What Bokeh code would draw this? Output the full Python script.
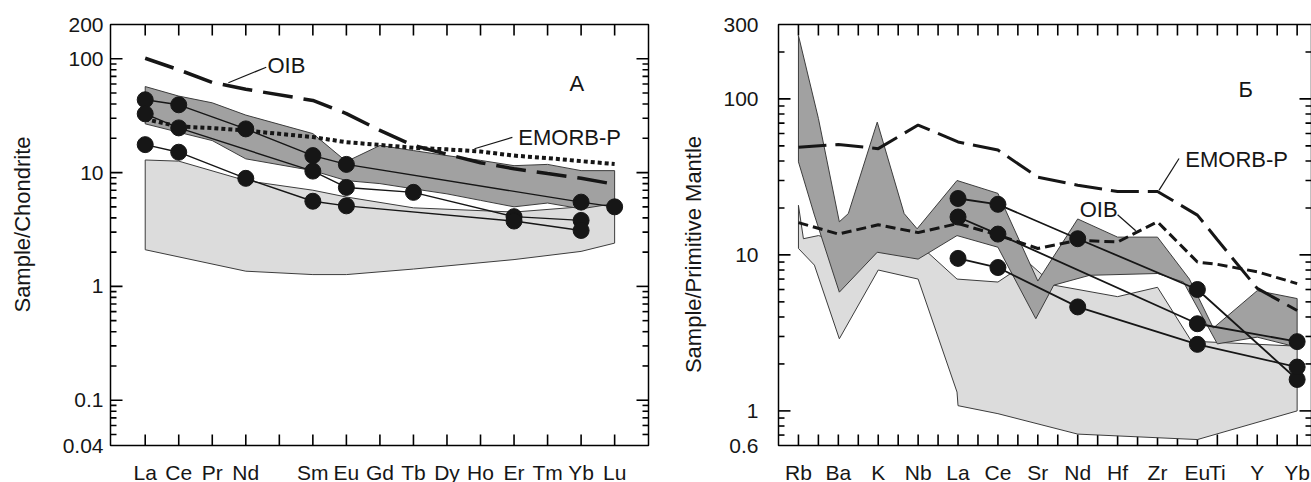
import math
from bokeh.plotting import figure
from bokeh.models import Range1d
from bokeh.layouts import row
from bokeh.embed import file_html
from bokeh.resources import INLINE
from bokeh.core.properties import value

# ------------------------------------------------------------------
# Panel A : chondrite-normalised REE
# ------------------------------------------------------------------
ree_names = ["La", "Ce", "Pr", "Nd", "Pm", "Sm", "Eu", "Gd", "Tb", "Dy", "Ho", "Er", "Tm", "Yb", "Lu"]
ree_tick_labels = ["La", "Ce", "Pr", "Nd", "", "Sm", "Eu", "Gd", "Tb", "Dy", "Ho", "Er", "Tm", "Yb", "Lu"]

ref_el = ["La", "Ce", "Pr", "Nd", "Sm", "Eu", "Gd", "Tb", "Dy", "Ho", "Er", "Tm", "Yb", "Lu"]
oib_a = [101, 80, 62, 54, 43, 33, 23.5, 17.3, 14.5, 12.2, 10.8, 9.8, 8.9, 7.9]
emorb_a = [29.5, 25.4, 24.6, 23.4, 20.5, 18.5, 17.5, 16.5, 16.0, 15.3, 14.1, 13.4, 12.6, 11.9]

dark_a_up = [57, 47, 41, 32, 22, 12.5, 17.3, 15.6, 14.1, 12.8, 11.5, 11.8, 10.4, 10.4]
dark_a_lo = [26.8, 22.6, 19.1, 13.2, 10.4, 8.5, 8.0, 7.2, 6.5, 5.7, 5.0, 5.4, 4.8, 5.35]

light_a_up_el = ["La", "Ce", "Nd", "Sm", "Eu", "Tb", "Er", "Yb", "Lu"]
light_a_up = [12.9, 12.6, 8.5, 7.0, 6.1, 4.9, 4.5, 5.0, 5.6]
light_a_lo_el = ["La", "Nd", "Sm", "Eu", "Tb", "Er", "Yb", "Lu"]
light_a_lo = [2.1, 1.36, 1.27, 1.27, 1.42, 1.72, 2.03, 2.4]

a_s1_el = ["La", "Ce", "Nd", "Sm", "Eu", "Yb", "Lu"]
a_s1 = [43.6, 39.4, 24.2, 14.1, 11.8, 5.5, 5.0]
a_s2_el = ["La", "Ce", "Sm", "Eu", "Tb", "Er", "Yb"]
a_s2 = [32.8, 24.7, 10.3, 7.4, 6.7, 4.1, 3.8]
a_s3_el = ["La", "Ce", "Nd", "Sm", "Eu", "Er", "Yb"]
a_s3 = [17.6, 15.1, 8.9, 5.6, 5.1, 3.75, 3.1]

a_y_labels = [0.04, 0.1, 1, 10, 100, 200]
a_y_major = [0.1, 1, 10, 100]
a_y_minor = [0.05, 0.06, 0.07, 0.08, 0.09, 0.2, 0.3, 0.4, 0.5, 0.6, 0.7, 0.8, 0.9,
             2, 3, 4, 5, 6, 7, 8, 9, 20, 30, 40, 50, 60, 70, 80, 90]

# ------------------------------------------------------------------
# Panel B : primitive-mantle-normalised spidergram (26 positions)
# ------------------------------------------------------------------
pm_tick_labels = ["Rb", "", "Ba", "", "K", "", "Nb", "", "La", "", "Ce", "", "Sr", "",
                  "Nd", "", "Hf", "", "Zr", "", "Eu", "Ti", "", "Y", "", "Yb"]

ref_b_x = [0, 2, 4, 6, 8, 10, 12, 14, 16, 18, 20, 21, 23, 25]
emorb_b = [49, 51, 48, 68, 53, 47, 31.5, 28, 25.5, 25.5, 18, 12.5, 6.1, 4.4]
oib_b = [16.1, 13.6, 15.6, 13.9, 15.9, 13.4, 11.0, 12.4, 12.1, 16.3, 9.0, 8.7, 7.8, 6.55]

dark_b_up_x = [0, 1.0, 2.05, 2.5, 3.95, 5.3, 5.95, 7.95, 10, 12, 14, 16, 18, 19.6, 20.8, 23, 25]
dark_b_up = [255, 75, 16.3, 18.4, 71, 18.4, 14.7, 30, 24.8, 6.8, 17, 13, 13, 7.0, 3.4, 5.9, 5.25]
dark_b_lo_x = [25, 23, 21, 19.3, 18, 14.6, 12.8, 11.9, 10, 7.95, 6, 3.95, 2.05, 0.8, 0]
dark_b_lo = [2.56, 2.97, 2.69, 6.7, 7.6, 7.4, 6.4, 3.9, 11.2, 13.3, 9.4, 10.4, 5.77, 18, 39.5]

light_b_up_x = [0, 0.25, 1, 4, 6, 7.95, 10, 11.5, 12.8, 16, 18, 19.7, 25]
light_b_up = [20.8, 12.7, 13.3, 10.7, 11.8, 7.0, 6.7, 9.0, 6.4, 5.4, 6.2, 2.8, 2.6]
light_b_lo_x = [25, 20, 14, 10, 8, 7.95, 6, 4, 2.05, 0.8, 0]
light_b_lo = [1.0, 0.655, 0.71, 0.96, 1.08, 1.32, 7.0, 8.0, 2.9, 8.6, 11.0]

b_s1_x = [8, 10, 14, 20, 25]
b_s1 = [23, 21.1, 12.7, 6.0, 1.59]
b_s2_x = [8, 10, 20, 25]
b_s2 = [17.5, 13.6, 3.62, 2.78]
b_s3_x = [8, 10, 14, 20, 25]
b_s3 = [9.5, 8.3, 4.64, 2.67, 1.91]

b_y_labels = [0.6, 1, 10, 100, 300]
b_y_major = [1, 10, 100]
b_y_minor = [0.7, 0.8, 0.9, 2, 3, 4, 5, 6, 7, 8, 9, 20, 30, 40, 50, 60, 70, 80, 90, 200]

# ------------------------------------------------------------------
FONT = "Liberation Sans"
INK = "#161616"
DARK = "#a1a1a1"
LIGHT = "#dcdcdc"
EDGE = "#3c3c3c"
H = 482
BOX_T, BOX_B = 24, 445


def idx(names):
    return [ree_names.index(n) for n in names]


def make_panel(W, box_l, box_r, xb, yb, n_ticks, tick_labels, y_labels, y_major, y_minor,
               y_title, label_standoff, title_pos):
    """Whole canvas is the plotting frame; the plot box, its ticks and all axis texts are drawn
    inside it, positioned through the data scales."""
    ux = (xb[1] - xb[0]) / (box_r - box_l)
    ly0, ly1 = math.log10(yb[0]), math.log10(yb[1])
    dpp = (ly1 - ly0) / (BOX_B - BOX_T)

    def X(px):
        return xb[0] + (px - box_l) * ux

    def Y(py):
        return 10 ** (ly1 - (py - BOX_T) * dpp)

    p = figure(width=W, height=H, x_range=Range1d(X(0), X(W)), y_range=Range1d(Y(H), Y(0)),
               y_axis_type="log", x_axis_location=None, y_axis_location=None, title=None,
               output_backend="svg", toolbar_location=None,
               min_border_left=0, min_border_right=0, min_border_top=0, min_border_bottom=0)
    for g in p.grid:
        g.visible = False
    p.outline_line_color = None
    p.background_fill_color = "white"
    p.border_fill_color = "white"

    # y tick labels
    p.text(x=[X(box_l - label_standoff)] * len(y_labels), y=y_labels,
           text=[f"{v:g}" for v in y_labels], text_font=value(FONT),
           text_font_size=value("21px"), text_color=INK, text_align="right",
           text_baseline="middle")
    # x tick labels
    xs_lab = [i for i, t in enumerate(tick_labels) if t]
    p.text(x=xs_lab, y=[Y(BOX_B + 15)] * len(xs_lab), text=[tick_labels[i] for i in xs_lab],
           text_font=value(FONT), text_font_size=value("21px"), text_color=INK,
           text_align="center", text_baseline="top")
    # y axis title
    p.text(x=[X(title_pos[0])], y=[Y(title_pos[1])], text=[y_title], angle=math.pi / 2,
           text_font=value(FONT), text_font_size=value("22px"), text_color=INK,
           text_align="center", text_baseline="middle")

    # inward tick marks on all four sides of the plot box
    hw = 0.8
    ql, qr, qb, qt = [], [], [], []
    for yv, L in [(v, 12) for v in y_major] + [(v, 6) for v in y_minor]:
        lo, hi = yv * 10 ** (-hw * dpp), yv * 10 ** (hw * dpp)
        ql += [xb[0], xb[1] - L * ux]
        qr += [xb[0] + L * ux, xb[1]]
        qb += [lo, lo]
        qt += [hi, hi]
    for xv in range(n_ticks):
        ql += [xv - hw * ux, xv - hw * ux]
        qr += [xv + hw * ux, xv + hw * ux]
        qb += [yb[0], yb[1] / 10 ** (11 * dpp)]
        qt += [yb[0] * 10 ** (11 * dpp), yb[1]]
    p.quad(left=ql, right=qr, bottom=qb, top=qt, fill_color="black", line_color=None)
    return p


def add_box(p, xb, yb):
    p.quad(left=[xb[0]], right=[xb[1]], bottom=[yb[0]], top=[yb[1]], fill_color=None,
           line_color="black", line_width=1.5)


# ---------------- Panel A ----------------
A_X, A_Y = (-1.035, 15.01), (0.04, 200)
pa = make_panel(668, 110, 648, A_X, A_Y, 15, ree_tick_labels, a_y_labels, a_y_major,
                a_y_minor, "Sample/Chondrite", 7, (22, 224))

pa.patch(idx(light_a_up_el) + idx(light_a_lo_el)[::-1], light_a_up + light_a_lo[::-1],
         fill_color=LIGHT, line_color=EDGE, line_width=1)
pa.patch(idx(ref_el) + idx(ref_el)[::-1], dark_a_up + dark_a_lo[::-1],
         fill_color=DARK, line_color=EDGE, line_width=1)
pa.line(idx(ref_el), oib_a, line_color=INK, line_width=3.5, line_dash="30 11")
pa.line(idx(ref_el), emorb_a, line_color=INK, line_width=4, line_dash="4 3")
for el, vals in [(a_s1_el, a_s1), (a_s2_el, a_s2), (a_s3_el, a_s3)]:
    pa.line(idx(el), vals, line_color=INK, line_width=1.4)
for el, vals in [(a_s1_el, a_s1), (a_s2_el, a_s2), (a_s3_el, a_s3)]:
    pa.scatter(idx(el), vals, size=16, fill_color=INK, line_color=INK)

pa.line([3.61, 2.48], [84.3, 61.5], line_color=INK, line_width=1.2)
pa.line([10.95, 9.82], [20.4, 16.2], line_color=INK, line_width=1.2)
pa.text(x=[4.21, 12.66, 12.87], y=[87.3, 20.3, 60.6], text=["OIB", "EMORB-P", "А"],
        text_font=value(FONT), text_font_size=value("22px"), text_color=INK,
        text_align="center", text_baseline="middle")
add_box(pa, A_X, A_Y)

# ---------------- Panel B ----------------
B_X, B_Y = (-1.0, 25.72), (0.6, 300)
pb = make_panel(643, 110, 643, B_X, B_Y, 26, pm_tick_labels, b_y_labels, b_y_major,
                b_y_minor, "Sample/Primitive Mantle", 20, (25, 254))

pb.patch(light_b_up_x + light_b_lo_x, light_b_up + light_b_lo,
         fill_color=LIGHT, line_color=EDGE, line_width=1)
pb.patch(dark_b_up_x + dark_b_lo_x, dark_b_up + dark_b_lo,
         fill_color=DARK, line_color=EDGE, line_width=1)
pb.line(ref_b_x, emorb_b, line_color=INK, line_width=3, line_dash="28 9")
pb.line(ref_b_x, oib_b, line_color=INK, line_width=3, line_dash="10 5")
for xs, vals in [(b_s1_x, b_s1), (b_s2_x, b_s2), (b_s3_x, b_s3)]:
    pb.line(xs, vals, line_color=INK, line_width=1.8)
for xs, vals in [(b_s1_x, b_s1), (b_s2_x, b_s2), (b_s3_x, b_s3)]:
    pb.scatter(xs, vals, size=16, fill_color=INK, line_color=INK)

pb.line([19.08, 18.08], [41.5, 26.0], line_color=INK, line_width=1.2)
pb.line([16.0, 16.91], [18.1, 14.3], line_color=INK, line_width=1.2)
pb.text(x=[21.97, 15.05, 22.42], y=[40.8, 19.6, 114.7], text=["EMORB-P", "OIB", "Б"],
        text_font=value(FONT), text_font_size=value("22px"), text_color=INK,
        text_align="center", text_baseline="middle")
add_box(pb, B_X, B_Y)

layout = row(pa, pb)
open("out.html", "w").write(file_html(layout, INLINE))
